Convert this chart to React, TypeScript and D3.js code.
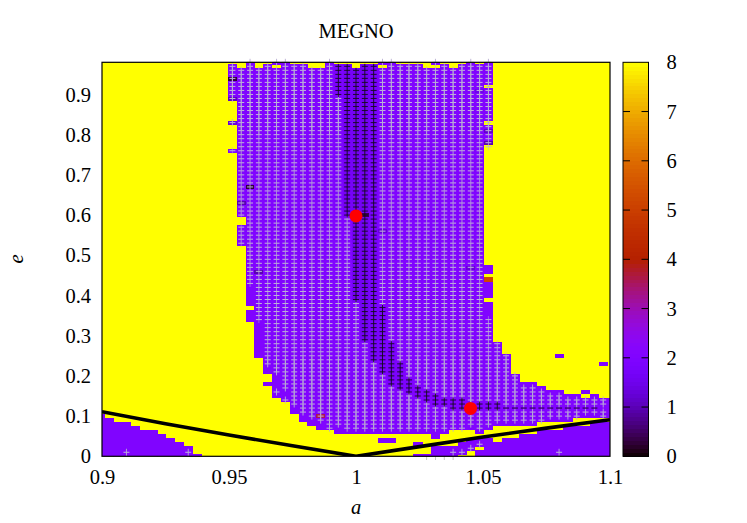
import React, { useEffect, useRef } from 'react'
import * as d3 from 'd3'

const WIDTH = 747
const HEIGHT = 523
const FONT = '"Liberation Serif", serif'

// grid: a = 1 + k * A_STEP, e is kept in hundredths
const A_STEP = 0.003476
const FIRST_COLUMN = -29

type Run = number[]

// rows (lo, hi) per column, left to right, where the orbit is regular (purple)
const regularRuns: Run[][] = [
  [[0, 10]], [[0, 9]], [[0, 8]], [[0, 8]], [[0, 7]], [[0, 6]], [[0, 6]], [[0, 5]], [[0, 4]], [[0, 3]], [[0, 2]], [[0, 0]],
  [], [], [],
  [[89, 97], [83, 83], [76, 76]],
  [[60, 96], [53, 57]],
  [[38, 98], [34, 36]],
  [[25, 96]],
  [[21, 97], [18, 18]],
  [[15, 96], [98, 98]],
  [[14, 98]],
  [[11, 97]],
  [[9, 97]],
  [[8, 96]],
  [[7, 96]],
  [[7, 98]],
  [[6, 97]],
  [[6, 97]],
  [[6, 96]],
  [[6, 97]],
  [[6, 97]],
  [[6, 96], [98, 98], [4, 4]],
  [[6, 98], [4, 4]],
  [[6, 97]],
  [[6, 97]],
  [[6, 97], [3, 3], [0, 0]],
  [[6, 96], [0, 0]],
  [[5, 96], [98, 98], [0, 2]],
  [[6, 97], [0, 2]],
  [[7, 96], [0, 2]],
  [[7, 97], [1, 3]],
  [[7, 98], [2, 4]],
  [[6, 97], [3, 4], [0, 1]],
  [[7, 38], [40, 44], [46, 47], [78, 82], [84, 91], [93, 98], [0, 4]],
  [[8, 28], [0, 3]],
  [[8, 25], [0, 4]],
  [[8, 20], [0, 4]],
  [[8, 18], [0, 5]],
  [[8, 18], [0, 5]],
  [[9, 17], [0, 6]],
  [[9, 16], [0, 6]],
  [[9, 16], [25, 25], [0, 6]],
  [[9, 15], [0, 7]],
  [[10, 15], [0, 7]],
  [[10, 14], [16, 16], [0, 7]],
  [[10, 15], [0, 8]],
  [[10, 14], [23, 23], [0, 8]],
  [[10, 14], [0, 8]],
]

// rows with a pale cross, same column order
const paleCrossRuns: Run[][] = [
  [], [], [], [[1, 1]], [], [], [], [], [], [], [[1, 1]], [],
  [], [], [],
  [[89, 97], [83, 83], [76, 76]],
  [[60, 96], [53, 57]],
  [[43, 98]],
  [[34, 96]],
  [[23, 97]],
  [[21, 96], [98, 98], [16, 16]],
  [[17, 98], [14, 14]],
  [[13, 97]],
  [[11, 97]],
  [[10, 96]],
  [[9, 96]],
  [[7, 98]],
  [[8, 89]],
  [[7, 59]],
  [[7, 38]],
  [[7, 28]],
  [[7, 23]],
  [[7, 20], [38, 96], [98, 98]],
  [[7, 17], [29, 98]],
  [[7, 16], [24, 97]],
  [[7, 15], [20, 97]],
  [[7, 14], [18, 97]],
  [[7, 13], [17, 96]],
  [[7, 12], [16, 96], [98, 98]],
  [[7, 12], [15, 97]],
  [[7, 11], [15, 96], [1, 1]],
  [[7, 11], [15, 97], [1, 1]],
  [[8, 98], [2, 2]],
  [[7, 11], [14, 97], [3, 3]],
  [[8, 11], [14, 34], [77, 98]],
  [[9, 11], [14, 28]],
  [[9, 11], [13, 25]],
  [[9, 11], [13, 20]],
  [[9, 11], [13, 17]],
  [[9, 11], [13, 17]],
  [[9, 11], [13, 16]],
  [[10, 11], [13, 15]],
  [[10, 11], [13, 15], [1, 1]],
  [[10, 11], [13, 14]],
  [[10, 11], [13, 14]],
  [[11, 11], [13, 14]],
  [[11, 11], [13, 14]],
  [[10, 11], [13, 14]],
  [],
]

// [column, lo, hi] of the black crosses along the resonance
const blackCrossRuns = [
  [-2, 90, 97], [-1, 60, 97], [0, 39, 96], [1, 29, 97], [2, 24, 97], [3, 21, 37], [4, 18, 28], [5, 17, 23],
  [6, 16, 19], [7, 15, 17], [8, 14, 16], [9, 13, 15], [10, 13, 14], [11, 12, 14], [12, 12, 14], [14, 12, 13],
  [15, 12, 13], [16, 12, 13], [17, 12, 12], [18, 12, 12], [19, 12, 12], [20, 12, 12], [21, 12, 12], [22, 12, 12],
  [23, 12, 12], [24, 12, 12], [25, 12, 12], [26, 12, 12], [27, 12, 12],
]

// crosses on row 0 that only show under the frame
const bottomStubColumns = [8, 9, 10, 11]

const REGULAR_VALUE = 2
// [column, lo, hi, MEGNO] darker strip near a = 1
const shadeBands = [
  [-2, 60, 97, 1.9], [-1, 60, 97, 1.7], [0, 39, 96, 1.65], [1, 29, 97, 1.65], [2, 24, 97, 1.8], [3, 21, 37, 1.85],
  [4, 18, 28, 1.85], [5, 17, 23, 1.9], [6, 16, 19, 1.9],
]
// [column, row, MEGNO] isolated cells
const oddCells = [
  [-14, 94, 0.3], [-14, 89, 1.1], [-14, 83, 1.3], [-12, 67, 0.3], [-13, 63, 1], [-11, 46, 1], [-4, 10, 3.6],
  [13, 47, 1.3], [14, 91, 1.5], [15, 81, 1.2], [15, 78, 1], [3, 56, 1.3], [1, 60, 0.4], [15, 44, 5.2],
]
const FADE_ROWS = [25, 80]

const xTicks = [0.9, 0.95, 1, 1.05, 1.1]
const yTicks = [0, 0.1, 0.2, 0.3, 0.4, 0.5, 0.6, 0.7, 0.8, 0.9]
const colorTicks = [0, 1, 2, 3, 4, 5, 6, 7, 8]

const collisionA = [0.9, 0.925, 0.95, 0.975, 1, 1.025, 1.05, 1.075, 1.1]
const collisionE = [0.111, 0.081, 0.053, 0.026, 0, 0.024, 0.048, 0.07, 0.091]

const planetA = [1, 1.0451]
const planetE = [0.598, 0.119]

// gnuplot rgbformulae 7,5,15
const palette = (t: number) => {
  const r = Math.sqrt(t)
  const g = t * t * t
  const b = Math.max(0, Math.sin(2 * Math.PI * t))
  return d3.rgb(r * 255, g * 255, b * 255).formatHex()
}

const App = () => {
  const ref = useRef<SVGSVGElement>(null)

  useEffect(() => {
    const svg = d3.select(ref.current)
    svg.selectAll('*').remove()

    const x = d3.scaleLinear().domain([0.9, 1.1]).range([102, 610])
    const y = d3.scaleLinear().domain([0, 0.98]).range([456.3, 62.3])
    const color = d3.scaleSequential(palette).domain([0, 8])
    const cbY = d3.scaleLinear().domain([0, 8]).range([456.3, 62.3])

    const colX = (k: number) => x(1 + k * A_STEP)
    const rowY = (r: number) => y(r / 100)
    const cellW = Math.abs(colX(1) - colX(0))
    const cellH = Math.abs(rowY(1) - rowY(0))

    const defs = svg.append('defs')
    defs
      .append('clipPath')
      .attr('id', 'plot')
      .append('rect')
      .attr('x', 102)
      .attr('y', 62.3)
      .attr('width', 508)
      .attr('height', 394)

    // stubs first, the map hides their upper part
    svg
      .append('g')
      .selectAll('line')
      .data(bottomStubColumns)
      .join('line')
      .attr('x1', d => colX(d))
      .attr('x2', d => colX(d))
      .attr('y1', 450)
      .attr('y2', 460)
      .attr('stroke', '#c4c4c4')

    const map = svg.append('g').attr('clip-path', 'url(#plot)').attr('shape-rendering', 'crispEdges')
    map.append('rect').attr('x', 102).attr('y', 62.3).attr('width', 508).attr('height', 394).attr('fill', color(8))

    const cells: { k: number; r: number; v: number }[] = []
    regularRuns.forEach((runs, i) => {
      const k = FIRST_COLUMN + i
      runs.forEach(([lo, hi]) => {
        d3.range(lo, hi + 1).forEach(r => {
          const band = shadeBands.find(b => b[0] === k && r >= b[1] && r <= b[2])
          const odd = oddCells.find(c => c[0] === k && c[1] === r)
          cells.push({ k, r, v: odd ? odd[2] : band ? band[3] : REGULAR_VALUE })
        })
      })
    })

    map
      .selectAll('rect.cell')
      .data(cells)
      .join('rect')
      .attr('class', 'cell')
      .attr('x', d => colX(d.k) - cellW / 2)
      .attr('y', d => rowY(d.r) - cellH / 2)
      .attr('width', cellW + 0.3)
      .attr('height', cellH + 0.3)
      .attr('fill', d => color(d.v))

    // crosses
    let across = ''
    let upSharp = ''
    let upFaded = ''
    paleCrossRuns.forEach((runs, i) => {
      const cx = colX(FIRST_COLUMN + i)
      runs.forEach(([lo, hi]) => {
        d3.range(lo, hi + 1).forEach(r => {
          const cy = rowY(r)
          across += `M${cx - 3},${cy}H${cx + 3}`
          const seg = `M${cx},${cy - 3.5}V${cy + 3.5}`
          if (r >= FADE_ROWS[0] && r <= FADE_ROWS[1]) upFaded += seg
          else upSharp += seg
        })
      })
    })
    const crosses = svg.append('g').attr('fill', 'none')
    crosses.append('path').attr('d', across).attr('stroke', '#c0b6d8').attr('stroke-width', 1)
    crosses.append('path').attr('d', upSharp).attr('stroke', '#b9aed2').attr('stroke-width', 0.9)
    crosses.append('path').attr('d', upFaded).attr('stroke', '#b9aed2').attr('stroke-width', 0.9).attr('stroke-opacity', 0.55)

    let black = ''
    blackCrossRuns.forEach(([k, lo, hi]) => {
      const cx = colX(k)
      if (hi > lo) black += `M${cx},${rowY(hi) - 2.5}V${rowY(lo) + 2.5}`
      d3.range(lo, hi + 1).forEach(r => {
        black += `M${cx - 3},${rowY(r)}H${cx + 3}`
      })
    })
    crosses.append('path').attr('d', black).attr('stroke', '#140a1c').attr('stroke-width', 0.9)

    // collision curves
    const line = d3
      .line<number>()
      .x(d => x(d))
      .y((d, i) => y(collisionE[i]))
    svg
      .append('path')
      .attr('clip-path', 'url(#plot)')
      .attr('d', line(collisionA))
      .attr('fill', 'none')
      .attr('stroke', '#000')
      .attr('stroke-width', 3.6)

    svg
      .append('g')
      .selectAll('circle')
      .data(planetA)
      .join('circle')
      .attr('cx', d => x(d))
      .attr('cy', (d, i) => y(planetE[i]))
      .attr('r', 6.5)
      .attr('fill', '#ff0000')

    svg
      .append('rect')
      .attr('x', 102)
      .attr('y', 62.3)
      .attr('width', 508)
      .attr('height', 394)
      .attr('fill', 'none')
      .attr('stroke', '#000')
      .attr('stroke-width', 1.2)

    // colour box
    const cbX = 623
    const cbW = 25.5
    const levels = d3.range(0, 100)
    svg
      .append('g')
      .attr('shape-rendering', 'crispEdges')
      .selectAll('rect')
      .data(levels)
      .join('rect')
      .attr('x', cbX)
      .attr('width', cbW)
      .attr('y', d => cbY(((d + 1) * 8) / 100))
      .attr('height', 394 / 100 + 0.5)
      .attr('fill', d => color(((d + 0.5) * 8) / 100))
    svg
      .append('g')
      .selectAll('path')
      .data(colorTicks.slice(1, -1))
      .join('path')
      .attr('d', d => `M${cbX},${cbY(d)}h7M${cbX + cbW},${cbY(d)}h-7`)
      .attr('stroke', '#000')
      .attr('stroke-width', 1)
    svg
      .append('rect')
      .attr('x', cbX)
      .attr('y', 62.3)
      .attr('width', cbW)
      .attr('height', 394)
      .attr('fill', 'none')
      .attr('stroke', '#000')
      .attr('stroke-width', 1)

    // axes, labels only
    const styleAxis = (g: any) => {
      g.style('font-family', FONT).style('font-size', '20.5px').attr('fill', '#000')
      g.selectAll('.domain').remove()
      g.selectAll('.tick text').attr('fill', '#000')
      g.selectAll('.tick line').remove()
    }
    svg
      .append('g')
      .attr('transform', 'translate(0,456.3)')
      .call(d3.axisBottom(x).tickValues(xTicks).tickFormat(d3.format('')).tickSize(0).tickPadding(13))
      .call(styleAxis)
    svg
      .append('g')
      .attr('transform', 'translate(102,0)')
      .call(d3.axisLeft(y).tickValues(yTicks).tickFormat(d3.format('')).tickSize(0).tickPadding(11))
      .call(styleAxis)
    svg
      .append('g')
      .attr('transform', `translate(${cbX + cbW},0)`)
      .call(d3.axisRight(cbY).tickValues(colorTicks).tickFormat(d3.format('')).tickSize(0).tickPadding(18))
      .call(styleAxis)

    const label = (tx: number, ty: number, s: string, italic: boolean, rotate = 0) =>
      svg
        .append('text')
        .attr('transform', `translate(${tx},${ty}) rotate(${rotate})`)
        .attr('text-anchor', 'middle')
        .style('font-family', FONT)
        .style('font-size', '20.5px')
        .style('font-style', italic ? 'italic' : 'normal')
        .text(s)

    label(356, 38, 'MEGNO', false)
    label(356, 514, 'a', true)
    label(23, 259, 'e', true, -90)
  }, [])

  return (
    <svg
      ref={ref}
      width={WIDTH}
      height={HEIGHT}
      style={{ position: 'absolute', left: 0, top: 0, background: '#fff' }}
    />
  )
}

export default App
